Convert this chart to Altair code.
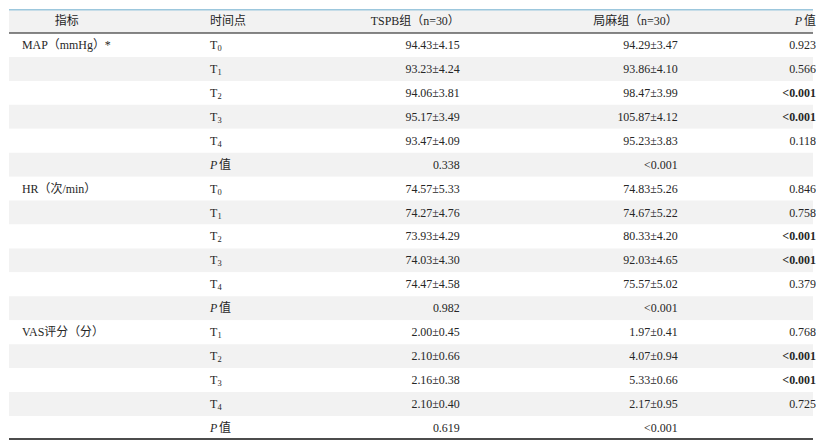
import altair as alt
import pandas as pd

# ---- data ----
header_labels = ["指标", "时间点", "TSPB组（n=30）", "局麻组（n=30）", "值"]
indicator_labels = ["MAP（mmHg）*", "HR（次/min）", "VAS评分（分）"]
time_points = [
    ["T0", "T1", "T2", "T3", "T4", "P值"],
    ["T0", "T1", "T2", "T3", "T4", "P值"],
    ["T1", "T2", "T3", "T4", "P值"],
]
tspb_values = [
    ["94.43±4.15", "93.23±4.24", "94.06±3.81", "95.17±3.49", "93.47±4.09", "0.338"],
    ["74.57±5.33", "74.27±4.76", "73.93±4.29", "74.03±4.30", "74.47±4.58", "0.982"],
    ["2.00±0.45", "2.10±0.66", "2.16±0.38", "2.10±0.40", "0.619"],
]
local_values = [
    ["94.29±3.47", "93.86±4.10", "98.47±3.99", "105.87±4.12", "95.23±3.83", "<0.001"],
    ["74.83±5.26", "74.67±5.22", "80.33±4.20", "92.03±4.65", "75.57±5.02", "<0.001"],
    ["1.97±0.41", "4.07±0.94", "5.33±0.66", "2.17±0.95", "<0.001"],
]
p_values = [
    ["0.923", "0.566", "<0.001", "<0.001", "0.118", ""],
    ["0.846", "0.758", "<0.001", "<0.001", "0.379", ""],
    ["0.768", "<0.001", "<0.001", "0.725", ""],
]

# ---- build table ----
records = []
r = 1
for g, ind in enumerate(indicator_labels):
    for k, tp in enumerate(time_points[g]):
        is_p = tp == "P值"
        records.append({
            "row": r,
            "indicator": ind if k == 0 else "",
            "time_base": "" if is_p else tp[0],
            "time_sub": "" if is_p else tp[1:],
            "is_p": is_p,
            "tspb": tspb_values[g][k],
            "local": local_values[g][k],
            "p": p_values[g][k],
            "bold": p_values[g][k].startswith("<"),
        })
        r += 1
df = pd.DataFrame(records)
n_rows = r
bg = pd.DataFrame({"row": list(range(n_rows)), "shade": [i % 2 == 0 for i in range(n_rows)]})
hdr = pd.DataFrame([{"row": 0, "c1": header_labels[0], "c2": header_labels[1],
                     "c3": header_labels[2], "c4": header_labels[3], "c5": header_labels[4]}])

W, H = 808, 433
RH = H / n_rows
FONT = "'Liberation Serif', 'Times New Roman', 'Noto Sans CJK SC'"
TXT = "#262626"

yenc = alt.Y("row:O", scale=alt.Scale(domain=list(range(n_rows)), paddingInner=0, paddingOuter=0), axis=None)

back = alt.Chart(bg).mark_rect().encode(
    y=yenc, x=alt.value(0), x2=alt.value(W),
    color=alt.Color("shade:N", scale=alt.Scale(domain=[True, False], range=["#f2f2f2", "#ffffff"]), legend=None),
)

def txt(data, field, xpos, align, **kw):
    kw.setdefault("fontSize", 12)
    return alt.Chart(data).mark_text(font=FONT, color=TXT, align=align, **kw).encode(
        y=yenc, x=alt.value(xpos), text=alt.Text(field + ":N"))

layers = [back]
# header
layers.append(txt(hdr, "c1", 58, "center"))
layers.append(txt(hdr, "c2", 202, "left"))
layers.append(txt(hdr, "c3", 453, "right"))
layers.append(txt(hdr, "c4", 672, "right"))
layers.append(txt(hdr, "c5", 811, "right"))
layers.append(alt.Chart(hdr).mark_text(font=FONT, fontSize=12, color=TXT, align="right", fontStyle="italic").encode(
    y=yenc, x=alt.value(797), text=alt.value("P")))

# body
layers.append(txt(df, "indicator", 13, "left"))
layers.append(txt(df, "time_base", 202, "left"))
layers.append(txt(df, "time_sub", 209.5, "left", fontSize=8.5, dy=3))
layers.append(alt.Chart(df).mark_text(font=FONT, fontSize=12, color=TXT, align="left", fontStyle="italic").encode(
    y=yenc, x=alt.value(202), text=alt.value("P")).transform_filter("datum.is_p"))
layers.append(alt.Chart(df).mark_text(font=FONT, fontSize=12, color=TXT, align="left").encode(
    y=yenc, x=alt.value(211), text=alt.value("值")).transform_filter("datum.is_p"))
layers.append(txt(df, "tspb", 453, "right"))
layers.append(txt(df, "local", 672, "right"))
layers.append(txt(df, "p", 811, "right").transform_filter("!datum.bold"))
layers.append(txt(df, "p", 811, "right", fontWeight="bold").transform_filter("datum.bold"))

# rules
layers.append(alt.Chart(hdr).mark_rule(color="#9cc7dd", strokeWidth=1.5).encode(
    y=alt.value(0.75), x=alt.value(0), x2=alt.value(W)))
layers.append(alt.Chart(hdr).mark_rule(color="#111111", strokeWidth=1.2).encode(
    y=alt.value(RH), x=alt.value(0), x2=alt.value(W)))
layers.append(alt.Chart(hdr).mark_rule(color="#111111", strokeWidth=1.5).encode(
    y=alt.value(H - 1), x=alt.value(0), x2=alt.value(W)))

chart = alt.layer(*layers).properties(width=W, height=H, padding=0).configure_view(stroke=None)
chart.save("out.html", embed_options={"renderer": "svg", "actions": False})
